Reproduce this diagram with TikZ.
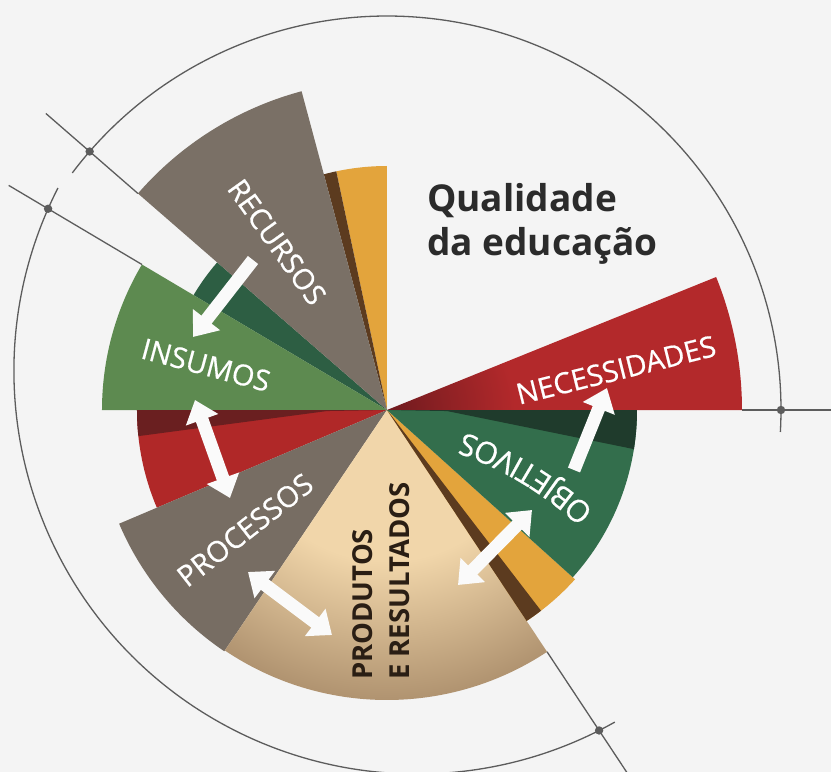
\documentclass[tikz,border=0pt]{standalone}
\usepackage{fontspec}
\setmainfont{Open Sans}
\newfontfamily\labelfont[FakeBold=0.6]{Open Sans}
\usetikzlibrary{arrows.meta,intersections,decorations.text}
\definecolor{bgcol}{HTML}{F4F4F4}
\definecolor{necred}{HTML}{B3292B}
\definecolor{necdark}{HTML}{6E1A1E}
\definecolor{orangeA}{HTML}{E3A43C}
\definecolor{brownA}{HTML}{5C3B1F}
\definecolor{recgrey}{HTML}{7A7066}
\definecolor{insgreen}{HTML}{5D8A50}
\definecolor{darkgreen}{HTML}{2D5E43}
\definecolor{redL}{HTML}{B02828}
\definecolor{redD}{HTML}{6A1F20}
\definecolor{procgrey}{HTML}{776D63}
\definecolor{prodlight}{HTML}{F1D6AA}
\definecolor{proddark}{HTML}{B09370}
\definecolor{objgreen}{HTML}{336E4C}
\definecolor{objdark}{HTML}{1F3B2C}
\definecolor{linecol}{HTML}{5C5C5C}
\definecolor{titlecol}{HTML}{2B2B2B}
\definecolor{prodtext}{HTML}{2A1E14}
\definecolor{arrowcol}{HTML}{FAFAFA}
\pgfdeclareradialshading{necshade}{\pgfpoint{0bp}{0bp}}{color(0bp)=(necdark); color(9bp)=(necred); color(25bp)=(necred); color(50bp)=(necred)}
\pgfdeclareradialshading{prodshade}{\pgfpoint{0bp}{0bp}}{color(0bp)=(prodlight); color(13bp)=(prodlight); color(25bp)=(proddark); color(50bp)=(proddark)}
\newcommand{\pieslice}[4]{\fill[#1] (0,0) -- (#2:#4) arc[start angle=#2, end angle=#3, radius=#4] -- cycle;}
\tikzset{
  label/.style={text=white, font=\labelfont\fontsize{29}{32}\selectfont, inner sep=0pt},
  prodlabel/.style={text=prodtext, font=\bfseries\fontsize{27.5}{30}\selectfont, inner sep=0pt, rotate=90, anchor=base west},
  titletext/.style={text=titlecol, font=\bfseries\fontsize{37}{40}\selectfont, inner sep=0pt, anchor=base west},
  guide/.style={draw=linecol, line width=1.3pt},
  dotmark/.style={fill=linecol},
  fatarrow/.style={draw=arrowcol, line width=13pt, -{Triangle[width=33pt,length=22pt]}},
  fatdouble/.style={draw=arrowcol, line width=13pt, {Triangle[width=33pt,length=21pt]}-{Triangle[width=33pt,length=21pt]}}
}
\begin{document}
\begin{tikzpicture}[x=1pt,y=1pt]
\fill[bgcol] (-387,-362) rectangle (444,410);
\useasboundingbox (-387,-362) rectangle (444,410);
% wedges
\pieslice{darkgreen}{139}{149.3}{225}
\begin{scope}
  \clip (0,0) -- (0:355) arc[start angle=0, end angle=22, radius=355] -- cycle;
  \shade[shading=necshade] (0,0) circle (355);
\end{scope}
\pieslice{orangeA}{90}{102}{244}
\pieslice{brownA}{102}{105}{244}
\pieslice{recgrey}{105}{139}{330}
\pieslice{insgreen}{149.3}{180}{285}
\pieslice{redL}{180}{203}{250}
\fill[redD] (0,0) -- (180:250) arc[start angle=180, end angle=186, radius=250] -- (181:60) -- cycle;
\pieslice{procgrey}{203}{236}{291}
\begin{scope}
  \clip (0,0) -- (236:290) arc[start angle=236, end angle=303.5, radius=290] -- cycle;
  \shade[shading=prodshade] (0,0) circle (290);
\end{scope}
\pieslice{orangeA}{303.5}{318}{253}
\fill[brownA] (0,0) -- (303.5:253) arc[start angle=303.5, end angle=307.5, radius=253] -- cycle;
\pieslice{objgreen}{318}{360}{250}
\fill[objdark] (0,0) -- (359:60) -- (351:250) arc[start angle=351, end angle=360, radius=250] -- cycle;
% guide arcs and lines
\draw[guide, name path=uarc] (-3.2:394) arc[start angle=-3.2, end angle=143, radius=394];
\draw[guide, name path=larc, shift={(30,39)}] (153:403) arc[start angle=153, end angle=299.4, radius=403];
\draw[guide, name path=lA] (139:330) -- (139:452);
\draw[guide, name path=lB] (149.3:285) -- (149.3:440);
\draw[guide, name path=lC] (355,0) -- (444,0);
\draw[guide, name path=lD] (303.5:290) -- (303.5:440);
\path[name intersections={of=uarc and lA, by=dA}];
\path[name intersections={of=larc and lB, by=dB}];
\path[name intersections={of=uarc and lC, by=dC}];
\path[name intersections={of=larc and lD, by=dD}];
\foreach \d in {dA,dB,dC,dD} \fill[dotmark] (\d) circle (4.2);
% arrow end points
\coordinate (a1s) at (-134,150);
\coordinate (a1e) at (-194,73);
\coordinate (a2s) at (-192,10);
\coordinate (a2e) at (-157,-88);
\coordinate (a3s) at (-139,-162);
\coordinate (a3e) at (-55,-225);
\coordinate (a4s) at (71,-175);
\coordinate (a4e) at (145,-100);
\coordinate (a5s) at (187,-60);
\coordinate (a5e) at (220,22);
\draw[fatarrow] (a1s) -- (a1e);
\draw[fatdouble] (a2s) -- (a2e);
\draw[fatdouble] (a3s) -- (a3e);
\draw[fatdouble] (a4s) -- (a4e);
\draw[fatarrow] (a5s) -- (a5e);
% labels
\node[label, rotate=-54.5] (lRec) at (-110,168) {RECURSOS};
\node[label, rotate=-15] (lIns) at (-181,45) {INSUMOS};
\node[label, rotate=14] (lNec) at (229,40) {NECESSIDADES};
\path[decorate, decoration={text along path, text={|\labelfont\fontsize{30.5}{33}\selectfont|OBJETIVOS}, text color=white, text align=center}]
  (-44,-371) ++(41:369) arc[start angle=41, end angle=77, radius=369];
\node[label, rotate=38] (lProc) at (-142,-120) {PROCESSOS};
\node[prodlabel] (lProd1) at (-14,-270) {PRODUTOS};
\node[prodlabel] (lProd2) at (23,-270) {E RESULTADOS};
\node[titletext] (t1) at (40,198) {Qualidade};
\node[titletext] (t2) at (40,154) {da educação};
\end{tikzpicture}
\end{document}
